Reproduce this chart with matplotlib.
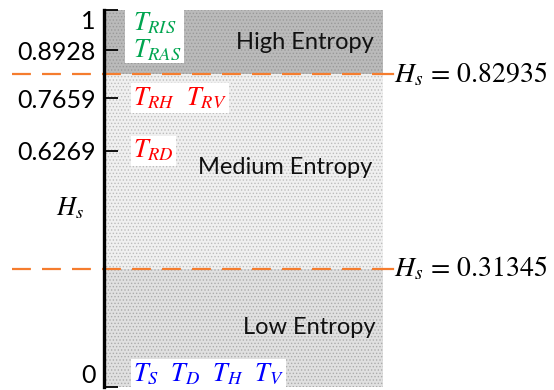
import matplotlib
matplotlib.use("Agg")
import matplotlib.pyplot as plt
from matplotlib.patches import Rectangle

plt.rcParams['mathtext.fontset'] = 'stix'
plt.rcParams['hatch.linewidth'] = 0.6

# data
tick_vals = [0, 0.6269, 0.7659, 0.8928, 1]
tick_labels = ["0", "0.6269", "0.7659", "0.8928", "1"]
thresholds = [0.31345, 0.82935]
threshold_labels = ["0.31345", "0.82935"]
regions = ["Low Entropy", "Medium Entropy", "High Entropy"]
region_bounds = [(0, 0.31345), (0.31345, 0.82935), (0.82935, 1)]
region_face = ['#e0e0e0', '#f0f0f0', '#bababa']
region_hatch = ['#ababab', '#bcbcbc', '#999999']
region_text_y = [0.159, 0.581, 0.915]
region_text_x = [0.735, 0.649, 0.72]

label_rows = [
    (1.0, r"$T_{RIS}$", '#00a550', 'top'),
    (0.8928, r"$T_{RAS}$", '#00a550', 'center'),
    (0.7659, r"$T_{RH}\ \ T_{RV}$", '#ff0000', 'center'),
    (0.6269, r"$T_{RD}$", '#ff0000', 'center'),
    (0.0, r"$T_S\ \ T_D\ \ T_H\ \ T_V$", '#0000ff', 'bottom'),
]

fig = plt.figure(figsize=(5.54, 3.90), dpi=100)
ax = fig.add_axes([104/554, 3/390, 279/554, 377/390])
ax.set_xlim(0, 1)
ax.set_ylim(0, 1)

for (lo, hi), fc, hc in zip(region_bounds, region_face, region_hatch):
    ax.add_patch(Rectangle((0, lo), 1, hi - lo, facecolor=fc, edgecolor=hc,
                           hatch='.....', lw=0, zorder=1))

for name, x, y in zip(regions, region_text_x, region_text_y):
    ax.text(x, y, name, fontsize=17, family='Lato', ha='center', va='center',
            color='#111111', zorder=3)

# white box behind the top labels
ax.add_patch(Rectangle((0.075, 0.86), 0.21, 0.14, facecolor='white',
                       lw=0, zorder=2))

tr = ax.get_yaxis_transform()
for y, lab in zip(thresholds, threshold_labels):
    ax.plot([-0.33, 1.0], [y, y], transform=tr, color='#f57c2e', lw=1.6,
            dashes=(8.5, 5), clip_on=False, zorder=4)
    ax.plot([1.0, 1.035], [y, y], transform=tr, color='#f57c2e', lw=1.6,
            clip_on=False, zorder=4)
    ax.text(1.038, y, r"$H_s\,=\,%s$" % lab, transform=tr, fontsize=20,
            ha='left', va='center', clip_on=False)

for y, s, c, va in label_rows:
    if y in (1.0, 0.8928):
        bb = None
    else:
        bb = dict(facecolor='white', edgecolor='none', pad=1.5)
    ax.text(0.105, y, s, color=c, fontsize=19, ha='left', va=va,
            bbox=bb, zorder=5)

ax.set_yticks(tick_vals)
ax.set_yticklabels(tick_labels, family='Lato', fontsize=18)
ax.get_yticklabels()[0].set_va('bottom')
ax.get_yticklabels()[-1].set_va('top')
ax.set_xticks([])
ax.tick_params(axis='y', direction='in', length=10, width=1.3, pad=6)
for s in ['top', 'right', 'bottom']:
    ax.spines[s].set_visible(False)
ax.spines['left'].set_linewidth(2.4)
ax.spines['left'].set_zorder(6)

fig.text(70/554, 1 - 208/390, r"$H_s$", fontsize=19, ha='center', va='center')

fig.savefig("out.png", dpi=100)
